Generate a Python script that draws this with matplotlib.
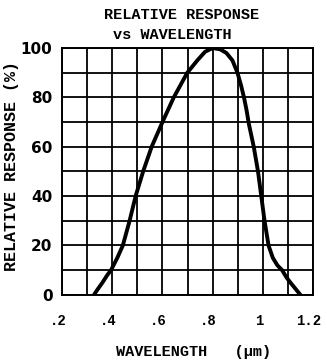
import matplotlib
matplotlib.use('Agg')
import matplotlib.pyplot as plt
from matplotlib.ticker import MultipleLocator
import matplotlib.transforms as mtransforms

# curve (wavelength in um, relative response in %)
wavelength = [0.327, 0.34, 0.361, 0.38, 0.395, 0.42, 0.442, 0.469, 0.493,
              0.523, 0.557, 0.60, 0.645, 0.672, 0.699, 0.739, 0.77, 0.80,
              0.83, 0.855, 0.879, 0.899, 0.913, 0.925, 0.935, 0.945, 0.964,
              0.981, 0.994, 1.007, 1.023, 1.040, 1.058, 1.077, 1.095, 1.11,
              1.15]
response = [0, 2, 5, 8, 10, 15, 20, 30, 40,
            50, 60, 70, 80, 85, 90, 95, 98.5, 100,
            99.5, 98, 95, 90, 85, 80, 75, 69, 60,
            50, 40, 30, 20, 15, 12, 10, 7, 5,
            0]

xticks = [0.2, 0.4, 0.6, 0.8, 1.0, 1.2]
xticklabels = ['.2', '.4', '.6', '.8', '1', '1.2']
yticks = [0, 20, 40, 60, 80, 100]

mono = 'Liberation Mono'

fig = plt.figure(figsize=(3.27, 3.64), dpi=100)
ax = fig.add_axes([0.19, 0.19, 0.767, 0.678])

ax.plot(wavelength, response, color='black', lw=2.8, solid_joinstyle='round',
        solid_capstyle='round', zorder=3)

ax.set_xlim(0.2, 1.2)
ax.set_ylim(0, 100)
ax.set_xticks(xticks)
ax.set_xticklabels(xticklabels, fontfamily=mono, fontweight='bold', fontsize=10)
ax.set_yticks(yticks)
ax.set_yticklabels([str(v) for v in yticks], fontsize=11, fontweight='bold')
ax.xaxis.set_minor_locator(MultipleLocator(0.1))
ax.yaxis.set_minor_locator(MultipleLocator(10))
ax.grid(which='both', color='black', lw=1.3)
ax.tick_params(which='both', length=0)
ax.tick_params(axis='x', pad=14)
ax.tick_params(axis='y', pad=7)
for sp in ax.spines.values():
    sp.set_linewidth(1.4)

# labels sit a bit left of their grid lines in the scan
shift = mtransforms.ScaledTranslation(-4/100, 0, fig.dpi_scale_trans)
for lab in ax.get_xticklabels():
    lab.set_transform(lab.get_transform() + shift)

fig.text(194/327, 1 - 352/364, 'WAVELENGTH   (\u00b5m)', ha='center', va='center',
         fontfamily=mono, fontweight='bold', fontsize=11)
fig.text(12/327, 1 - 166/364, 'RELATIVE RESPONSE (%)', ha='center', va='center',
         rotation=90, fontfamily=mono, fontweight='bold', fontsize=12)

fig.text(182/327, 1 - 15/364, 'RELATIVE RESPONSE', ha='center', va='center',
         fontfamily=mono, fontweight='bold', fontsize=11)
fig.text(172/327, 1 - 35/364, 'vs WAVELENGTH', ha='center', va='center',
         fontfamily=mono, fontweight='bold', fontsize=11)

fig.savefig('out.png', dpi=100)
